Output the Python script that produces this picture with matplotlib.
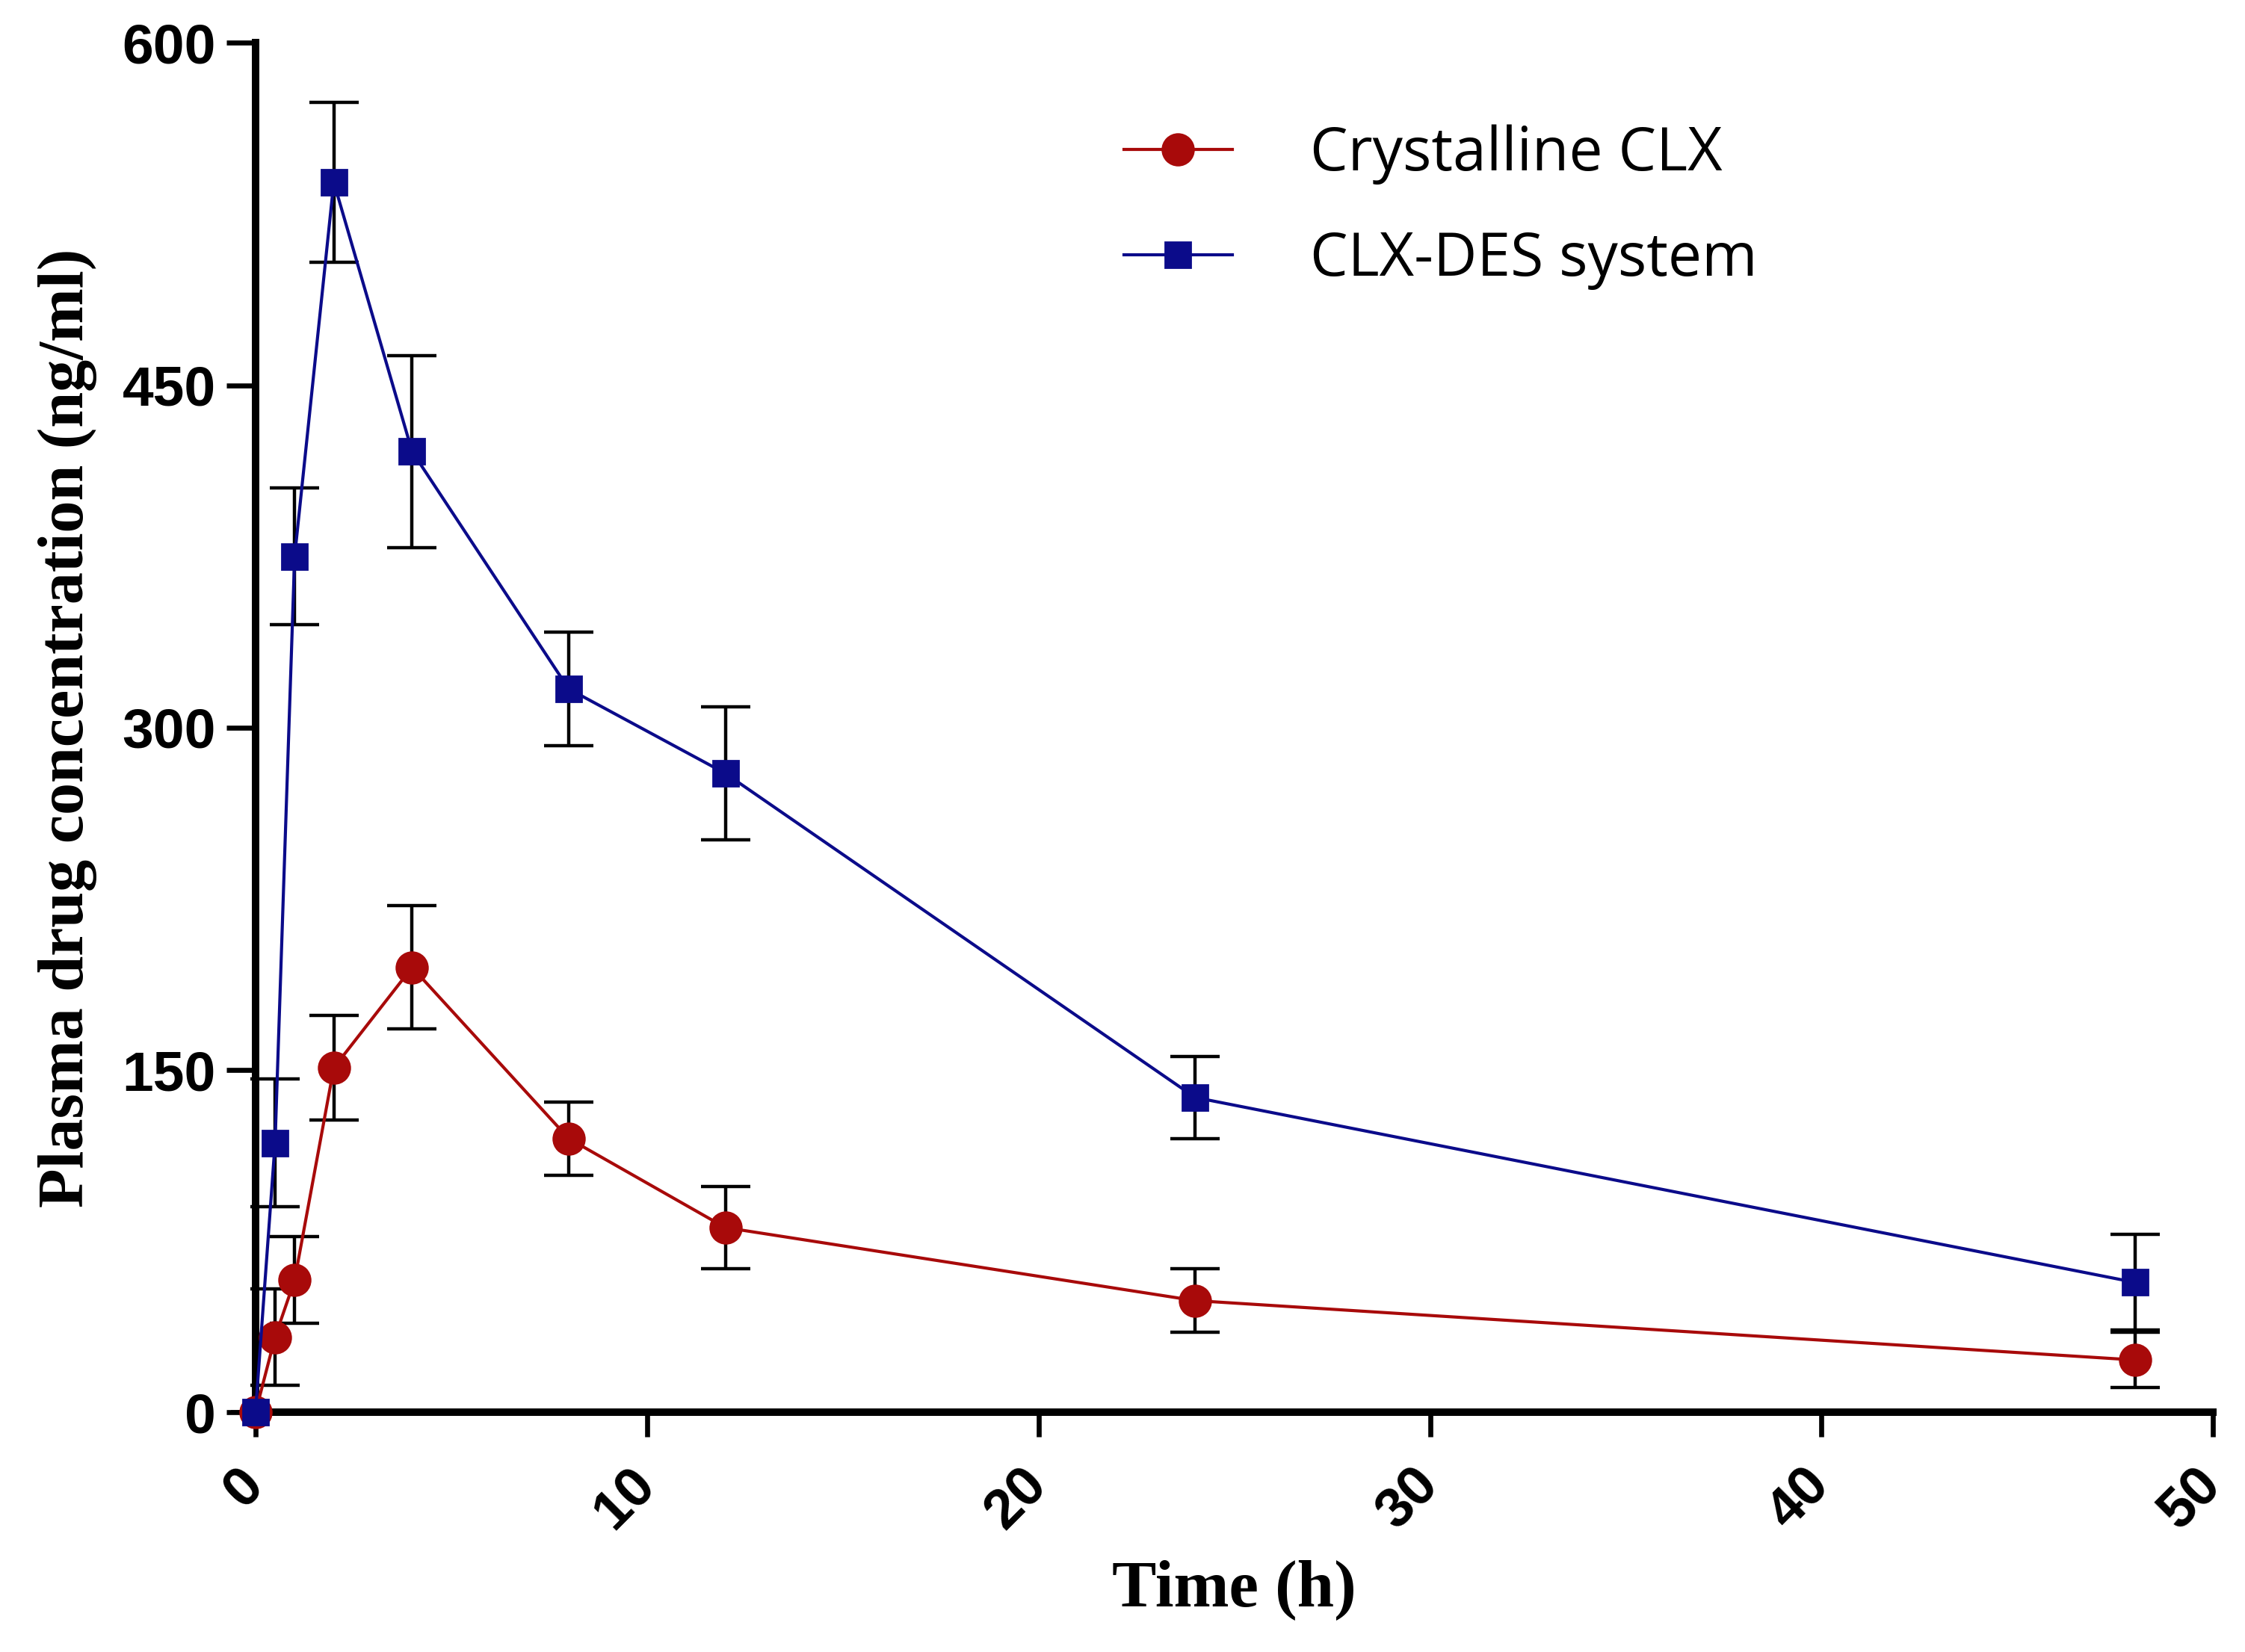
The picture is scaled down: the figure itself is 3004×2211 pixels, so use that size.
import matplotlib
matplotlib.use("Agg")
import matplotlib.pyplot as plt
from matplotlib.transforms import ScaledTranslation

# time points (h)
time_h = [0, 0.5, 1, 2, 4, 8, 12, 24, 48]

# plasma concentration (ng/ml), mean and SD
crystalline = [0, 33, 58, 151, 195, 120, 81, 49, 23]
crystalline_sd = [0, 21, 19, 23, 27, 16, 18, 14, 12]
des_system = [0, 118, 375, 539, 421, 317, 280, 138, 57]
des_system_sd = [0, 28, 30, 35, 42, 25, 29, 18, 21]

x_ticks = [0, 10, 20, 30, 40, 50]
y_ticks = [0, 150, 300, 450, 600]

red = "#A80A0A"
blue = "#0B0B8A"
serif = ["Liberation Serif", "DejaVu Serif"]
sans = ["Liberation Sans", "DejaVu Sans"]

fig = plt.figure(figsize=(15.02, 11.055), dpi=200)
ax = fig.add_axes([0.1138, 0.145, 0.872, 0.829])

# error bars first, then lines+markers on top
ax.errorbar(time_h, crystalline, yerr=crystalline_sd, fmt="none", ecolor="black",
            elinewidth=1.6, capsize=12, capthick=1.6, zorder=2, clip_on=False)
ax.errorbar(time_h, des_system, yerr=des_system_sd, fmt="none", ecolor="black",
            elinewidth=1.6, capsize=12, capthick=1.6, zorder=2, clip_on=False)

ax.plot(time_h, crystalline, color=red, marker="o", markersize=15, linewidth=1.5,
        label="Crystalline CLX", zorder=3, clip_on=False)
ax.plot(time_h, des_system, color=blue, marker="s", markersize=12, linewidth=1.5,
        label="CLX-DES system", zorder=4, clip_on=False)

ax.set_xlim(0, 50)
ax.set_ylim(0, 600)
ax.set_xticks(x_ticks)
ax.set_yticks(y_ticks)

for side in ["top", "right"]:
    ax.spines[side].set_visible(False)
for side in ["left", "bottom"]:
    ax.spines[side].set_linewidth(3.6)

ax.tick_params(axis="y", direction="out", length=14, width=2.4, pad=5)
ax.tick_params(axis="x", direction="out", length=12, width=2.4, pad=10)
for lbl in ax.get_yticklabels():
    lbl.set_fontfamily(sans)
    lbl.set_fontweight("bold")
    lbl.set_fontsize(27)
shift = ScaledTranslation(-9 / 72, 0, fig.dpi_scale_trans)
for lbl in ax.get_xticklabels():
    lbl.set_fontfamily(sans)
    lbl.set_fontweight("bold")
    lbl.set_fontsize(27)
    lbl.set_rotation(45)
    lbl.set_ha("right")
    lbl.set_va("top")
    lbl.set_rotation_mode("anchor")
    lbl.set_transform(lbl.get_transform() + shift)

ax.set_xlabel("Time (h)", fontfamily=serif, fontweight="bold", fontsize=32, labelpad=10)
ax.set_ylabel("Plasma drug concentration (ng/ml)", fontfamily=serif,
              fontweight="bold", fontsize=31, labelpad=12)

ax.legend(loc="upper right", bbox_to_anchor=(0.795, 0.98), frameon=False,
          prop={"family": "Open Sans", "size": 29}, handlelength=1.8,
          handletextpad=1.3, labelspacing=0.75, numpoints=1)

fig.savefig("out.png", dpi=200)
